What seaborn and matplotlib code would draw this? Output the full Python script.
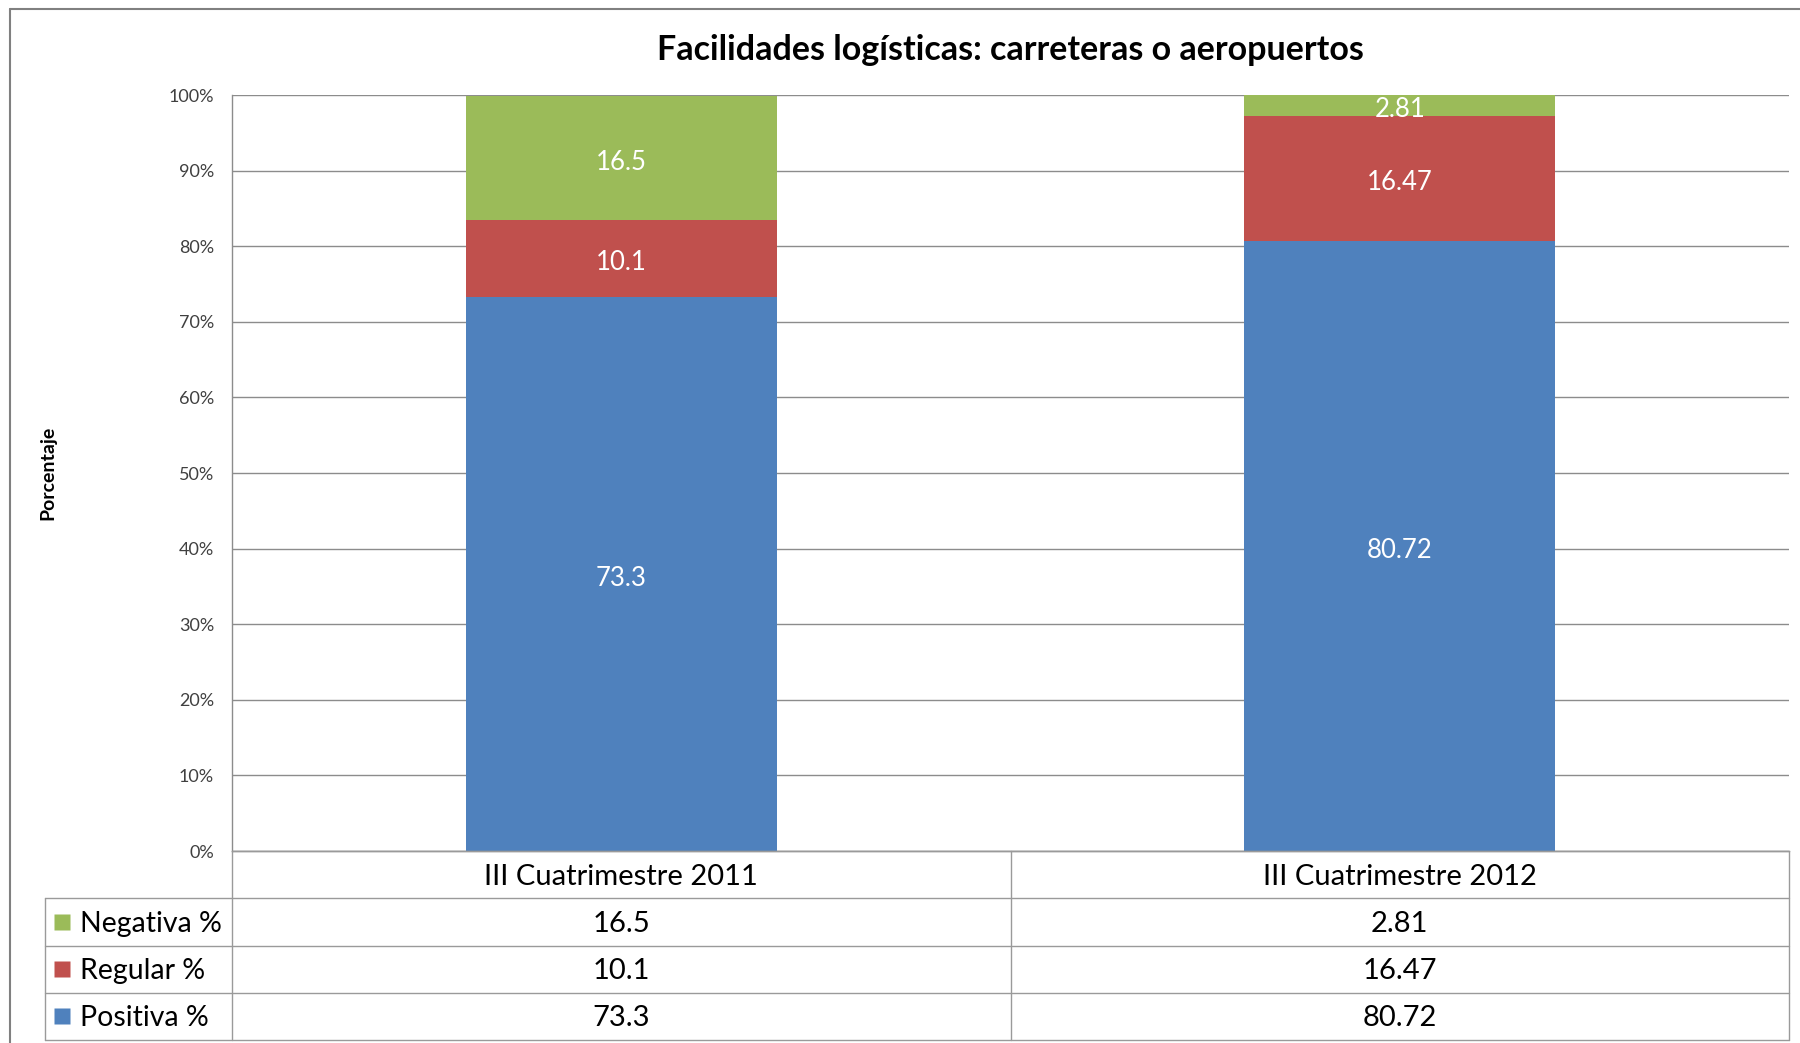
import matplotlib
matplotlib.use("Agg")
import matplotlib.pyplot as plt
from matplotlib.lines import Line2D
from matplotlib.transforms import offset_copy
import seaborn as sns
import pandas as pd

# ---- data ----
categories = ["III Cuatrimestre 2011", "III Cuatrimestre 2012"]
positiva = [73.3, 80.72]
regular = [10.1, 16.47]
negativa = [16.5, 2.81]
series_names = ["Negativa %", "Regular %", "Positiva %"]
series_colors = ["#9BBB59", "#C0504D", "#4F81BD"]
yticks = [0, 10, 20, 30, 40, 50, 60, 70, 80, 90, 100]
ytick_labels = ["0%", "10%", "20%", "30%", "40%", "50%", "60%", "70%", "80%", "90%", "100%"]
title = "Facilidades logísticas: carreteras o aeropuertos"
ylabel = "Porcentaje"

sns.set_theme(style="white")
plt.rcParams["font.family"] = ["Lato", "DejaVu Sans"]

W, H = 1800, 1043
fig = plt.figure(figsize=(W / 100, H / 100), dpi=100)

# main plot area (pixel layout)
px_left, px_right, px_top, px_bottom = 232, 1789, 95, 851
ax = fig.add_axes([px_left / W, 1 - px_bottom / H, (px_right - px_left) / W, (px_bottom - px_top) / H])

df = pd.DataFrame({"cat": categories, "pos": positiva, "reg": regular, "neg": negativa})
df["top_reg"] = df["pos"] + df["reg"]
df["top_neg"] = df["top_reg"] + df["neg"]

green, red, blue = series_colors
for col, c in [("top_neg", green), ("top_reg", red), ("pos", blue)]:
    sns.barplot(data=df, x="cat", y=col, color=c, width=0.4, saturation=1,
                errorbar=None, edgecolor="none", linewidth=0, ax=ax, zorder=2)

# segment labels (nudged slightly down to match the reference's text baseline)
lab_tr = offset_copy(ax.transData, fig=fig, x=0, y=-3, units="points")
for i in range(len(categories)):
    segs = [(0, positiva[i]), (positiva[i], regular[i]), (positiva[i] + regular[i], negativa[i])]
    for bottom, val in segs:
        ax.text(i, bottom + val / 2, f"{val:g}", ha="center", va="center",
                color="white", fontsize=18.5, zorder=3, transform=lab_tr)

ax.set_xlim(-0.5, 1.5)
ax.set_ylim(0, 100)
ax.set_xticks([])
ax.set_xlabel("")
ax.set_ylabel("")
ax.set_yticks(yticks)
ax.set_yticklabels(ytick_labels, fontsize=13, color="#404040")
ax.tick_params(axis="y", length=0, pad=13)
ax.yaxis.grid(True, color="#8C8C8C", linewidth=1)
ax.set_axisbelow(True)
for s in ["top", "right"]:
    ax.spines[s].set_visible(False)
for s in ["left", "bottom"]:
    ax.spines[s].set_color("#8C8C8C")
    ax.spines[s].set_linewidth(1)

# ---- data table below ----
tab_left, tab_top, tab_bottom = 45, 851, 1040
tax = fig.add_axes([tab_left / W, 1 - tab_bottom / H, (px_right - tab_left) / W, (tab_bottom - tab_top) / H])
unit = (px_right - px_left) / 2.0
x0 = -0.5 - (px_left - tab_left) / unit
tax.set_xlim(x0, 1.5)
tax.set_ylim(4, 0)
tax.axis("off")
lc = "#9A9A9A"
for yy in [1, 2, 3, 4]:
    tax.plot([x0, 1.5], [yy, yy], color=lc, lw=1, clip_on=False)
tax.plot([-0.5, 1.5], [0, 0], color=lc, lw=1, clip_on=False)
tax.plot([x0, x0], [1, 4], color=lc, lw=1, clip_on=False)
for xx in [-0.5, 0.5, 1.5]:
    tax.plot([xx, xx], [0, 4], color=lc, lw=1, clip_on=False)

txt_tr = offset_copy(tax.transData, fig=fig, x=0, y=-1.5, units="points")
for i, cat in enumerate(categories):
    tax.text(i, 0.5, cat, ha="center", va="center", fontsize=21, color="#000000", transform=txt_tr)

rows = {"Negativa %": negativa, "Regular %": regular, "Positiva %": positiva}
for r, (name, c) in enumerate(zip(series_names, series_colors), start=1):
    tax.plot([x0 + 17 / unit], [r + 0.5], marker="s", ms=11.5, color=c, mec="none", clip_on=False)
    tax.text(x0 + 35 / unit, r + 0.5, name, ha="left", va="center", fontsize=20.5, color="#000000", transform=txt_tr)
    for i, v in enumerate(rows[name]):
        tax.text(i, r + 0.5, f"{v:g}", ha="center", va="center", fontsize=21, color="#000000", transform=txt_tr)

# ---- titles and frame ----
fig.text(1010 / W, 1 - 50 / H, title, ha="center", va="center", fontsize=24.5, fontweight="bold", color="#000000")
fig.text(48 / W, 1 - 473 / H, ylabel, ha="center", va="center", rotation=90, fontsize=14, fontweight="bold", color="#000000")

fig.add_artist(Line2D([10 / W, 10 / W], [1 - 9 / H, 0], transform=fig.transFigure, color="#808080", lw=1.5))
fig.add_artist(Line2D([10 / W, 1], [1 - 9 / H, 1 - 9 / H], transform=fig.transFigure, color="#808080", lw=1.5))

fig.savefig("out.png", dpi=100)
